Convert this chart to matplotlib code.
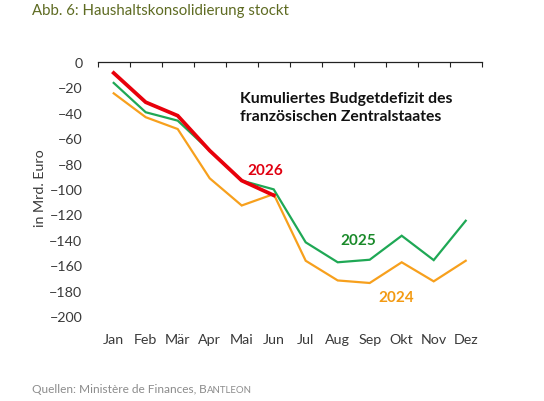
import numpy as np
import matplotlib.pyplot as plt
from matplotlib.ticker import FixedLocator

plt.rcParams['font.family'] = ['Lato', 'DejaVu Sans']

# Daten (Mrd. Euro, kumuliert)
monate = ['Jan', 'Feb', 'Mär', 'Apr', 'Mai', 'Jun', 'Jul', 'Aug', 'Sep', 'Okt', 'Nov', 'Dez']
defizit_2024 = [-24.7, -43.5, -52.8, -91.6, -113.0, -104.0, -156.5, -172.0, -174.0, -157.7, -172.7, -156.5]
defizit_2025 = [-16.5, -39.6, -46.2, -69.8, -93.4, -100.3, -142.0, -157.7, -155.7, -136.8, -156.0, -125.0]
defizit_2026 = [-8.7, -31.7, -42.3, -69.8, -93.4, -105.0]

fig = plt.figure(figsize=(5.44, 4.02), dpi=100)
ax = fig.add_axes([0.1796, 0.2114, 0.7059, 0.632])

x = np.arange(len(monate))
ax.plot(x, defizit_2024, color='#f7a01d', lw=1.6, solid_joinstyle='miter')
ax.plot(x, defizit_2025, color='#1fa855', lw=1.6, solid_joinstyle='miter')
ax.plot(x[:len(defizit_2026)], defizit_2026, color='#e8000b', lw=2.7, solid_joinstyle='miter')

ax.set_xlim(-0.5, 11.5)
ax.set_ylim(-200, 0)
ax.set_yticks(np.arange(-200, 1, 20))

ax.set_xticks(x)
ax.set_xticklabels(monate)
ax.xaxis.set_minor_locator(FixedLocator(np.arange(-0.5, 12, 1)))
ax.tick_params(axis='x', which='major', bottom=True, top=False, length=0, pad=12,
               labelsize=10.3, labelcolor='#3a3a3a')
ax.tick_params(axis='x', which='minor', bottom=False, top=True, direction='in',
               length=3.5, width=0.8, color='#222222')
ax.tick_params(axis='y', length=0, pad=11, labelsize=10.3, labelcolor='#3a3a3a')

for s in ['left', 'right', 'bottom']:
    ax.spines[s].set_visible(False)
ax.spines['top'].set_color('#222222')
ax.spines['top'].set_linewidth(0.9)

# Beschriftungen
ax.text(3.95, -35.4, 'Kumuliertes Budgetdefizit des\nfranzösischen Zentralstaates',
        fontsize=11.3, fontweight='bold', color='#111111', va='center', ha='left',
        linespacing=1.35)
ax.text(4.73, -85, '2026', color='#e00010', fontsize=11, fontweight='bold', ha='center', va='center')
ax.text(7.63, -140, '2025', color='#1a8a2a', fontsize=11, fontweight='bold', ha='center', va='center')
ax.text(8.82, -185, '2024', color='#f39a12', fontsize=11, fontweight='bold', ha='center', va='center')

fig.text(40 / 544, 1 - 188 / 402, 'in Mrd. Euro', rotation=90, fontsize=10.3,
         color='#3a3a3a', ha='center', va='center')

fig.text(32 / 544, 1 - 11 / 402, 'Abb. 6: Haushaltskonsolidierung stockt',
         fontsize=10.8, color='#5e6b22', ha='left', va='center')

t1 = fig.text(32 / 544, 1 - 393 / 402, 'Quellen: Ministère de Finances, ',
              fontsize=8.6, color='#8c8c8c', ha='left', va='baseline')
t2 = ax.annotate('B', xy=(1, 0), xycoords=t1, fontsize=8.6, color='#8c8c8c',
                 ha='left', va='bottom')
ax.annotate('ANTLEON', xy=(1, 0), xycoords=t2, fontsize=6.9, color='#8c8c8c',
            ha='left', va='bottom')

fig.savefig('out.png', dpi=100)
